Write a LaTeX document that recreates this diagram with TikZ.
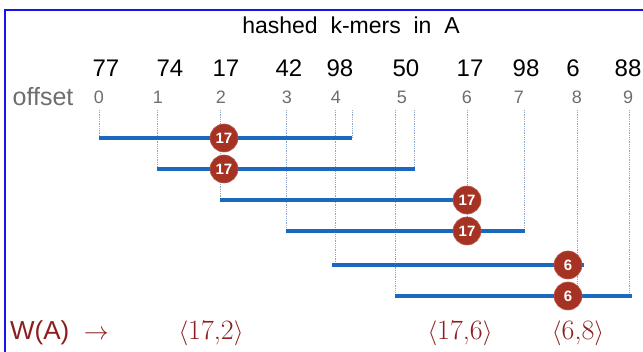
\documentclass[tikz,border=0pt]{standalone}
\usepackage{fontspec}
\setmainfont{Liberation Sans}
\definecolor{frameblue}{RGB}{20,20,235}
\definecolor{barblue}{RGB}{25,105,190}
\definecolor{dotblue}{RGB}{140,165,200}
\definecolor{mark}{RGB}{165,50,35}
\definecolor{wred}{RGB}{140,30,30}
\definecolor{offgray}{RGB}{110,110,110}
\begin{document}
\begin{tikzpicture}[x=1pt,y=-1pt,
  hashval/.style={font=\fontsize{24}{24}\selectfont, text=black, inner sep=0pt},
  offval/.style={font=\fontsize{18}{18}\selectfont, text=offgray, inner sep=0pt},
  guide/.style={dotblue, line width=0.8pt, densely dotted},
  bar/.style={barblue, line width=3.6pt},
  minmark/.style={circle, fill=mark, draw=mark!80!white, line width=0.6pt, minimum size=28pt, inner sep=0pt,
    text=white, font=\bfseries\fontsize{15}{15}\selectfont},
  pair/.style={font=\fontsize{28}{28}\selectfont, text=wred, inner sep=0pt}]
\useasboundingbox (0,0) rectangle (643,352);
\fill[white] (0,0) rectangle (643,352);
% frame (runs off the page on the right and bottom)
\draw[frameblue, line width=2.6pt] (5,400) -- (5,10) -- (700,10);

\node[font=\fontsize{23}{23}\selectfont, inner sep=0pt] (title) at (351,25) {hashed\ \ k-mers\ \ in\ \ A};

% hashed values
\foreach \v/\x [count=\i from 0] in {77/106,74/170,17/226,42/289,98/340,50/406,17/470,98/526,6/573,88/628}
  \node[hashval] (h\i) at (\x,68) {\v};

% offsets
\node[font=\fontsize{25}{25}\selectfont, text=offgray, inner sep=0pt] (offlbl) at (43,97) {offset};
\foreach \x [count=\i from 0] in {99,158,221,287,336,402,467,519,577,628}
  \node[offval] (o\i) at (\x,97) {\i};

% window bars: start, end, height
\coordinate (s1) at (99,138);  \coordinate (e1) at (352,138);
\coordinate (s2) at (157,169); \coordinate (e2) at (415,169);
\coordinate (s3) at (220,200); \coordinate (e3) at (468,200);
\coordinate (s4) at (286,231); \coordinate (e4) at (525,231);
\coordinate (s5) at (332,265); \coordinate (e5) at (584,265);
\coordinate (s6) at (395,296); \coordinate (e6) at (632,296);

% dotted guides from the offset row down to the bars
\foreach \x/\y in {99/138,157/169,220/200,286/231,335/265,352/138,395/296,414/169,467/231,524/231,577/296,629/296}
  \draw[guide] (\x,110) -- (\x,\y);

\foreach \i in {1,...,6}
  \draw[bar] (s\i) -- (e\i);

% minimizer marks
\node[minmark] (m1) at (224,138) {17};
\node[minmark] (m2) at (224,169) {17};
\node[minmark] (m3) at (467,200) {17};
\node[minmark] (m4) at (467,231) {17};
\node[minmark] (m5) at (568,265) {6};
\node[minmark] (m6) at (568,296) {6};

% resulting minimizer set
\node[font=\fontsize{26}{26}\selectfont, text=wred, inner sep=0pt, anchor=west] (wa) at (10,333) {W(A)\ \ $\rightarrow$};
\node[pair] (p1) at (211,333) {\fontspec{Latin Modern Roman}$\langle$17,2$\rangle$};
\node[pair] (p2) at (460,333) {\fontspec{Latin Modern Roman}$\langle$17,6$\rangle$};
\node[pair] (p3) at (578,333) {\fontspec{Latin Modern Roman}$\langle$6,8$\rangle$};
\end{tikzpicture}
\end{document}
